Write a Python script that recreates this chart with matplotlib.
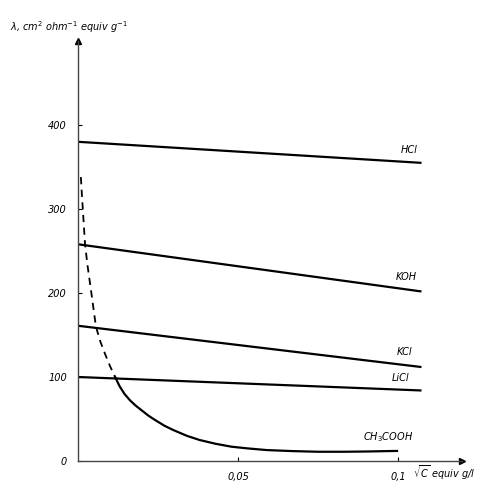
import numpy as np
import matplotlib.pyplot as plt

# sqrt(C), equiv g/l  and  lambda, cm2 ohm-1 equiv g-1
line_x = [0.0, 0.107]
hcl = [380, 355]
koh = [258, 202]
kcl = [161, 112]
licl = [100, 84]

# acetic acid: dashed (extrapolated) part, then measured part
ch3cooh_dash_x = [0.0009, 0.0012, 0.0015, 0.0022, 0.003, 0.004, 0.0056, 0.007, 0.0085, 0.01, 0.0116]
ch3cooh_dash_y = [338, 318, 300, 258, 232, 205, 160, 142, 127, 113, 100]
ch3cooh_x = [0.0116, 0.013, 0.0145, 0.0163, 0.018, 0.02, 0.022, 0.024, 0.027, 0.0297, 0.034,
             0.038, 0.043, 0.048, 0.053, 0.059, 0.067, 0.075, 0.083, 0.09, 0.0997]
ch3cooh_y = [100, 89, 80, 72, 66, 60, 54, 49, 42, 37, 30, 25, 20.5, 17, 15, 13, 11.8, 11,
             11, 11.3, 12]

x_ticks = [0.05, 0.1]
x_tick_labels = ['0,05', '0,1']
y_ticks = [0, 100, 200, 300, 400]
y_tick_labels = ['0', '100', '200', '300', '400']

W, H = 486, 491
fig = plt.figure(figsize=(W / 100, H / 100), dpi=100)
ax = fig.add_axes([78 / W, 30 / H, 384 / W, 420 / H])

lw = 1.6
ax.plot(line_x, hcl, color='black', lw=lw)
ax.plot(line_x, koh, color='black', lw=lw)
ax.plot(line_x, kcl, color='black', lw=lw)
ax.plot(line_x, licl, color='black', lw=lw)
ax.plot(ch3cooh_dash_x, ch3cooh_dash_y, color='black', lw=1.3, ls=(0, (4, 3)))
ax.plot(ch3cooh_x, ch3cooh_y, color='black', lw=lw)

lbl = dict(fontsize=7, style='italic', ha='right', va='center')
ax.text(0.106, 370, 'HCl', **lbl)
ax.text(0.106, 219, 'KOH', **lbl)
ax.text(0.1044, 130, 'KCl', **lbl)
ax.text(0.1037, 99, 'LiCl', **lbl)
ax.text(0.1047, 28, r'CH$_3$COOH', **lbl)

ax.set_xlim(0, 0.12)
ax.set_ylim(0, 500)
ax.spines[['top', 'right']].set_visible(False)
ax.spines[['left', 'bottom']].set_color('#444444')
ax.spines[['left', 'bottom']].set_linewidth(1.0)
ax.plot(1, 0, '>', color='black', ms=5, transform=ax.transAxes, clip_on=False)
ax.plot(0, 1, '^', color='black', ms=5, transform=ax.transAxes, clip_on=False)

ax.set_xticks(x_ticks)
ax.set_xticklabels(x_tick_labels, fontsize=7, style='italic')
ax.set_yticks(y_ticks)
ax.set_yticklabels(y_tick_labels, fontsize=7, style='italic')
ax.tick_params(axis='both', direction='in', length=3, width=0.8, pad=8)

fig.text(10 / W, 1 - 27 / H, r'$\lambda$, cm$^2$ ohm$^{-1}$ equiv g$^{-1}$',
         fontsize=7, style='italic', ha='left', va='center')
fig.text(413 / W, 1 - 473 / H, r'$\sqrt{C}$ equiv g/l',
         fontsize=7, style='italic', ha='left', va='center')

fig.savefig('out.png', dpi=100)
